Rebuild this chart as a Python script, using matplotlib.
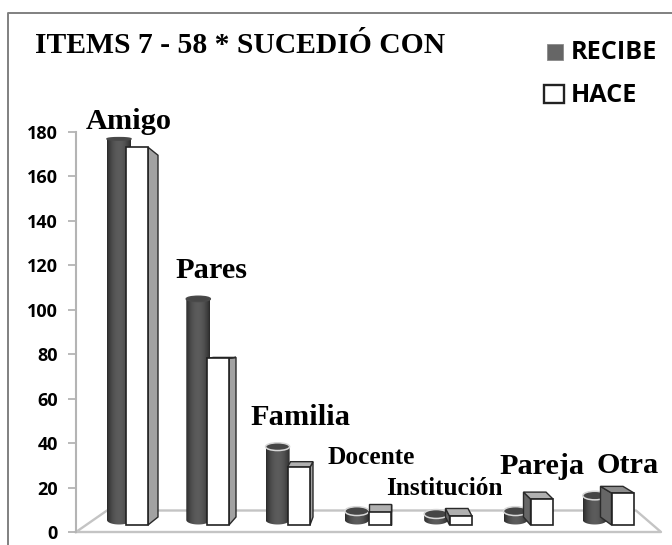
import numpy as np
import matplotlib
matplotlib.use("Agg")
import matplotlib.pyplot as plt
from matplotlib.patches import Ellipse, Polygon, Rectangle

W, H = 672, 545
SERIF = "Liberation Serif"
SANS = "Open Sans"

# datos (altura de cada barra sobre su base)
categorias = ["Amigo", "Pares", "Familia", "Docente", "Institución", "Pareja", "Otra"]
recibe = [171.5, 99.5, 33, 4, 2.7, 4, 11]
hace = [170, 75, 26, 6, 4, 11.7, 14.4]
ticks = [0, 20, 40, 60, 80, 100, 120, 140, 160, 180]

# sesgo lateral de la tapa de cada caja (perspectiva), en px
sesgo = [10, 7, 3, 0, -4, -7, -11]

PX_X = 79.3
PX_Y = 400 / 180
BASE_CIL = 12 / PX_Y  # las barras arrancan sobre el piso
BASE_CAJA = 7 / PX_Y
PROF = 8

fig = plt.figure(figsize=(W / 100, H / 100), dpi=100)

# eje de fondo en pixeles, para marco, textos y piso
bg = fig.add_axes([0, 0, 1, 1])
bg.set_xlim(0, W)
bg.set_ylim(H, 0)
bg.axis("off")

# eje de datos: 0 en y=532 y 180 en y=132
ax = fig.add_axes([76 / W, 1 - 532 / H, (661 - 76) / W, 400 / H])
ax.patch.set_alpha(0)
for s in ["top", "right", "bottom"]:
    ax.spines[s].set_visible(False)
ax.spines["left"].set_color("#b4b4b4")
ax.spines["left"].set_linewidth(1.5)
ax.set_xticks([])
ax.set_yticks(ticks)
ax.tick_params(axis="y", length=6, width=1.3, color="#b4b4b4", pad=7)
for lab in ax.get_yticklabels():
    lab.set_fontfamily(SANS)
    lab.set_fontweight("bold")
    lab.set_fontsize(13)
    lab.set_color("black")

# marco (sin lado inferior ni derecho)
bg.plot([7.5, 7.5, W], [H, 12.5, 12.5], color="#808080", lw=1.4)

# piso
piso = "#c4c4c4"
bg.plot([76, 107, 636, 661, 76], [532, 510.5, 510.5, 532, 532], color=piso, lw=1.7)


def cilindro(i, valor, ancho=24):
    w = ancho / PX_X
    ell_base = 9 / PX_Y
    # la elipse se aplana cuanto mas alto es el cilindro
    ell_h = (9 - valor * PX_Y * 6.5 / 381) / PX_Y
    y1 = BASE_CIL + valor
    cx = i + w / 2
    tt = np.linspace(0, np.pi, 30)
    xs_bot = cx - (w / 2) * np.cos(tt)
    ys_bot = BASE_CIL - (ell_base / 2) * np.sin(tt)
    xs_top = cx + (w / 2) * np.cos(tt)
    ys_top = y1 + (ell_h / 2) * np.sin(tt)
    vs = np.column_stack([np.r_[xs_bot, xs_top], np.r_[ys_bot, ys_top]])
    clip = Polygon(vs, closed=True, transform=ax.transData, fc="none", ec="none", zorder=3)
    ax.add_patch(clip)
    t = np.linspace(0, 1, 32)[None, :]
    im = ax.imshow(0.17 + 0.19 * np.sin(np.pi * t) ** 0.8, cmap="gray", vmin=0, vmax=1,
                   extent=[i, i + w, BASE_CIL - ell_base, y1 + ell_h], aspect="auto", zorder=3)
    im.set_clip_path(clip)
    borde = "#d8d8d8" if valor < 50 else "#4a4a4a"
    ax.add_patch(Ellipse((cx, y1), w, ell_h, fc="#464646", ec=borde, lw=1.1, zorder=3.1))


def caja(i, valor, sk, ancho=22.5):
    x0 = (18.5 + 81 * i) / PX_X
    w = ancho / PX_X
    y0 = BASE_CAJA
    y1 = y0 + valor
    s = sk / PX_X
    # la tapa se ve menos cuanto mas alta es la caja
    d_base = PROF / PX_Y
    d = (PROF - valor * PX_Y * 16 / 377) / PX_Y
    kw = dict(closed=True, ec="#2a2a2a", lw=1.0, zorder=4, joinstyle="miter")
    xl = x0 + w if sk >= 0 else x0
    lado = [(xl, y0), (xl + s, y0 + d_base), (xl + s, y1 + d), (xl, y1)]
    ax.add_patch(Polygon(lado, fc="#a2a2a2" if sk >= 0 else "#666666", **kw))
    if d > 0:
        tapa = [(x0, y1), (x0 + w, y1), (x0 + w + s, y1 + d), (x0 + s, y1 + d)]
        ax.add_patch(Polygon(tapa, fc="#b0b0b0" if sk > -10 else "#8c8c8c", **kw))
    ax.add_patch(Rectangle((x0, y0), w, valor, fc="white", ec="#222222", lw=1.2, zorder=4.2))


for i in range(len(categorias)):
    cilindro(i, recibe[i])
    caja(i, hace[i], sesgo[i])

ax.set_xlim((76 - 107) / PX_X, (661 - 107) / PX_X)
ax.set_ylim(0, 180)

# titulo
bg.text(35, 53, "ITEMS 7 - 58 * SUCEDIÓ CON", family=SERIF, weight="bold", fontsize=21.3, va="baseline")

# leyenda a mano
bg.add_patch(Rectangle((547, 44), 16, 16, fc="#666666", ec="#8a8a8a", lw=0.6))
bg.add_patch(Rectangle((544, 84.5), 19.5, 18.5, fc="white", ec="#222222", lw=1.7))
bg.text(571, 59, "RECIBE", family=SANS, weight="bold", fontsize=18.2, va="baseline")
bg.text(571, 102, "HACE", family=SANS, weight="bold", fontsize=18.2, va="baseline")

# etiquetas de categoria
etiquetas = [
    ("Amigo", 86, 129, 21.9),
    ("Pares", 175, 278, 21.9),
    ("Familia", 250, 425, 21.9),
    ("Docente", 327, 464, 18.3),
    ("Institución", 386, 495, 18.2),
    ("Pareja", 499, 474, 21.8),
    ("Otra", 596, 473, 21.8),
]
for txt, x, y, fs in etiquetas:
    bg.text(x, y, txt, family=SERIF, weight="bold", fontsize=fs, va="baseline", zorder=6)

fig.savefig("out.png", dpi=100, facecolor="white")
